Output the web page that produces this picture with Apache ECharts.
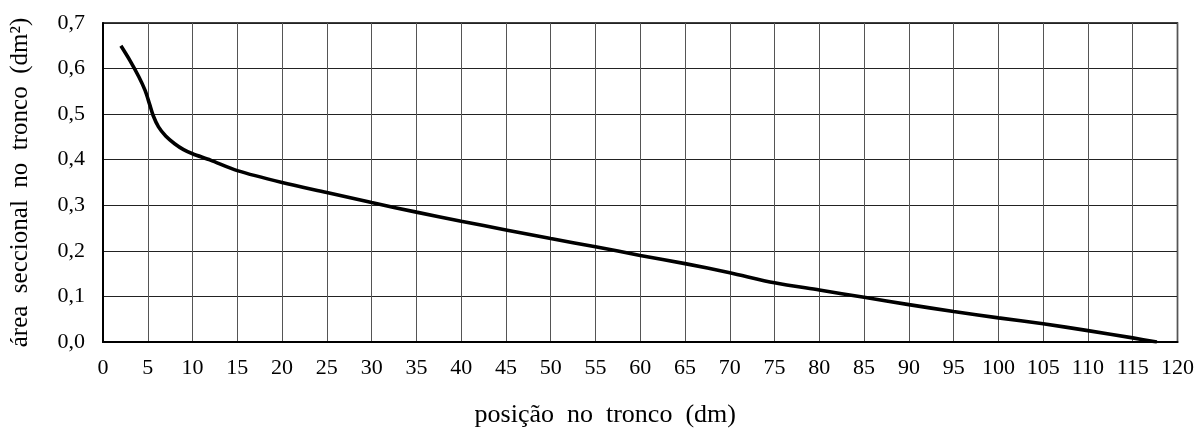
<!DOCTYPE html>
<html>
<head>
<meta charset="utf-8">
<script src="https://cdn.jsdelivr.net/npm/echarts@6/dist/echarts.min.js"></script>
<style>
html,body{margin:0;padding:0;background:#fff;}
#c{width:1197px;height:433px;}
</style>
</head>
<body>
<div id="c"></div>
<script>
var positions = [2, 3, 4, 4.7, 5.2, 5.6, 6.2, 7, 8, 9, 10, 12, 15, 20, 25, 30, 35, 40, 45, 50, 55, 60, 65, 70, 75, 80, 85, 90, 95, 100, 105, 110, 115, 117.7];
var areas = [0.65, 0.618, 0.582, 0.552, 0.522, 0.497, 0.472, 0.452, 0.435, 0.422, 0.413, 0.399, 0.376, 0.350, 0.328, 0.306, 0.285, 0.265, 0.246, 0.227, 0.209, 0.19, 0.172, 0.152, 0.130, 0.114, 0.098, 0.082, 0.067, 0.053, 0.040, 0.025, 0.009, 0.0];
var yTickLabels = ['0,0','0,1','0,2','0,3','0,4','0,5','0,6','0,7'];
var xTitle = 'posição  no  tronco  (dm)';
var yTitle = 'área  seccional  no  tronco  (dm²)';

var data = positions.map(function(p, i){ return [p, areas[i]]; });
var font = 'Liberation Serif';
var chart = echarts.init(document.getElementById('c'), null, {renderer:'canvas'});
chart.setOption({
  animation: false,
  backgroundColor: '#fff',
  grid: {left: 101, right: 19, top: 23, bottom: 88, show: true, borderColor: '#000', borderWidth: 1.5},
  xAxis: {
    type: 'value', min: 0, max: 120, interval: 5,
    name: xTitle, nameLocation: 'middle', nameGap: 60,
    nameTextStyle: {fontFamily: font, fontSize: 26, color: '#000', padding: [0, 70, 0, 0]},
    axisLine: {show: true, onZero: false, lineStyle: {color: '#000', width: 2}},
    axisTick: {show: false},
    axisLabel: {fontFamily: font, fontSize: 22, color: '#000', margin: 15},
    splitLine: {show: true, lineStyle: {color: '#555', width: 1}}
  },
  yAxis: {
    type: 'value', min: 0, max: 0.7, interval: 0.1,
    name: yTitle, nameLocation: 'middle', nameGap: 70,
    nameTextStyle: {fontFamily: font, fontSize: 25, color: '#000'},
    axisLine: {show: true, lineStyle: {color: '#000', width: 2}},
    axisTick: {show: false},
    axisLabel: {fontFamily: font, fontSize: 22, color: '#000', margin: 18,
      formatter: function(v){ return yTickLabels[Math.round(v * 10)]; }},
    splitLine: {show: true, lineStyle: {color: '#222', width: 1}}
  },
  series: [{
    type: 'line', data: data, smooth: 0.3, showSymbol: false,
    lineStyle: {color: '#000', width: 3.6}
  }]
});
</script>
</body>
</html>
